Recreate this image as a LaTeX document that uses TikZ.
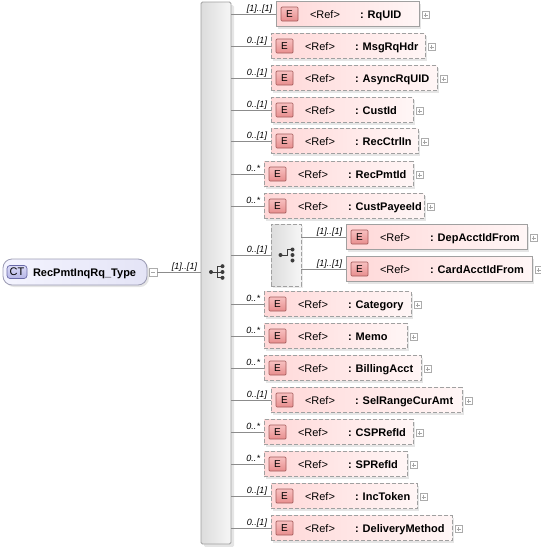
\documentclass[tikz,border=0pt]{standalone}
\usepackage{fontspec}
\setmainfont{Liberation Sans}
\usetikzlibrary{shadows,calc}
\definecolor{linegray}{HTML}{8C8C8C}
\definecolor{boxborder}{HTML}{A0A0A0}
\definecolor{pinkL}{HTML}{FFD8D8}
\definecolor{pinkR}{HTML}{FFF6F6}
\definecolor{ebadgeT}{HTML}{F7C0C0}
\definecolor{ebadgeB}{HTML}{E88E8E}
\definecolor{ebadgeD}{HTML}{A45A5A}
\definecolor{ctL}{HTML}{F4F4FF}
\definecolor{ctR}{HTML}{E4E4F6}
\definecolor{ctborder}{HTML}{9C9CB4}
\definecolor{ctbadgeT}{HTML}{DCDCF8}
\definecolor{ctbadgeB}{HTML}{B4B4E6}
\definecolor{ctbadgeD}{HTML}{6A6AA8}
\definecolor{seqL}{HTML}{DCDCDC}
\definecolor{seqR}{HTML}{F6F6F6}
\definecolor{iconc}{HTML}{3C3C3C}
\tikzset{
  every node/.style={inner sep=0pt, outer sep=0pt},
  elbox/.style={draw=boxborder, line width=0.8pt, left color=pinkL, right color=pinkR,
    minimum height=25pt,
    drop shadow={shadow xshift=2pt, shadow yshift=-2pt, fill=black, opacity=0.10}},
  opt/.style={dash pattern=on 4pt off 2pt},
  ebadge/.style={draw=ebadgeD, line width=0.7pt, top color=ebadgeT, bottom color=ebadgeB,
    minimum width=17pt, minimum height=14pt, rounded corners=1pt,
    font=\fontsize{10}{12}\selectfont},
  reftext/.style={font=\fontsize{11}{13}\selectfont},
  nametext/.style={font=\bfseries\fontsize{11}{13}\selectfont},
  mult/.style={font=\itshape\fontsize{9}{10}\selectfont, anchor=base east},
  plusbox/.style={draw=gray!65, fill=white, line width=0.5pt, minimum size=7pt,
    path picture={\draw[gray!70, line width=0.5pt]
      ([xshift=-2pt]path picture bounding box.center) -- ([xshift=2pt]path picture bounding box.center)
      ([yshift=-2pt]path picture bounding box.center) -- ([yshift=2pt]path picture bounding box.center);}},
  minusbox/.style={draw=gray!65, fill=white, line width=0.5pt, minimum size=8pt,
    path picture={\draw[gray!70, line width=0.5pt]
      ([xshift=-2pt]path picture bounding box.center) -- ([xshift=2pt]path picture bounding box.center);}},
  conn/.style={draw=linegray, line width=0.8pt},
  seqbar/.style={draw=boxborder, line width=0.8pt, left color=seqL, right color=seqR,
    rounded corners=1.5pt,
    drop shadow={shadow xshift=3pt, shadow yshift=-3pt, fill=black, opacity=0.10}},
  choicebar/.style={draw=boxborder, line width=0.8pt, opt, left color=seqL, right color=seqR,
    drop shadow={shadow xshift=2pt, shadow yshift=-2pt, fill=black, opacity=0.08}},
  ctbox/.style={draw=ctborder, line width=0.8pt, left color=ctL, right color=ctR,
    rounded corners=9pt,
    drop shadow={shadow xshift=2pt, shadow yshift=-2pt, fill=black, opacity=0.10}},
  ctbadge/.style={draw=ctbadgeD, line width=0.7pt, top color=ctbadgeT, bottom color=ctbadgeB,
    rounded corners=3pt, font=\fontsize{11}{13}\selectfont},
  icondot/.style={fill=iconc, draw=none},
}
\newcommand\ElemRow[7]{%
  \node[elbox,#6,minimum width={(#3-#2)*1pt},anchor=west] (#1) at (#2,#4) {};
  \node[ebadge,anchor=west] (#1-e) at ([xshift=5pt]#1.west) {E};
  \node[reftext,anchor=base west] (#1-r) at ([xshift=34pt,yshift=-4pt]#1.west) {<Ref>};
  \node[nametext,anchor=base west] (#1-n) at ([xshift=84pt,yshift=-4pt]#1.west) {: #7};
  \node[plusbox] (#1-p) at ([xshift=6.5pt,yshift=-1pt]#1.east) {};
  \node[mult] (#1-m) at ([xshift=-4pt,yshift=3pt]#1.west) {#5};
}
\begin{document}
\begin{tikzpicture}[x=1pt,y=-1pt]
\useasboundingbox (0,0) rectangle (541,547);
\fill[white] (0,0) rectangle (541,547);

% complex type
\node[ctbox, minimum width=144pt, minimum height=26pt, anchor=west] (ct) at (3,272) {};
\node[ctbadge, minimum width=20pt, minimum height=13pt, anchor=west] (ctb) at ([xshift=4pt]ct.west) {CT};
\node[nametext, anchor=base west] (ctn) at ([xshift=30pt,yshift=-4pt]ct.west) {RecPmtInqRq\_Type};
\node[minusbox] (ctm) at (153,272) {};

% sequence
\node[seqbar, minimum width=30pt, minimum height=542pt, anchor=north west] (seq) at (201,2) {};
\draw[conn] (ctm.east) -- (ctm.east -| seq.west);
\node[mult] (ctmult) at ([xshift=-4pt,yshift=3pt]ctm.east -| seq.west) {[1]..[1]};
% sequence icon
\coordinate (sc) at ([yshift=1pt]seq.center);
\draw[iconc, line width=1pt] ([xshift=-5pt]sc) -- ([xshift=6.5pt]sc)
  ([xshift=1.5pt,yshift=5.8pt]sc) -- ([xshift=1.5pt,yshift=-5.8pt]sc)
  ([xshift=1.5pt,yshift=5.8pt]sc) -- ([xshift=6.5pt,yshift=5.8pt]sc)
  ([xshift=1.5pt,yshift=-5.8pt]sc) -- ([xshift=6.5pt,yshift=-5.8pt]sc);
\fill[icondot] ([xshift=-5pt]sc) circle (2pt);
\fill[icondot] ([xshift=6.5pt,yshift=5.8pt]sc) circle (2pt);
\fill[icondot] ([xshift=6.5pt]sc) circle (2pt);
\fill[icondot] ([xshift=6.5pt,yshift=-5.8pt]sc) circle (2pt);

% elements
\ElemRow{r1}{276}{419}{14}{[1]..[1]}{}{RqUID}
\ElemRow{r2}{271}{425}{46}{0..[1]}{opt}{MsgRqHdr}
\ElemRow{r3}{271}{437}{78}{0..[1]}{opt}{AsyncRqUID}
\ElemRow{r4}{271}{413}{110}{0..[1]}{opt}{CustId}
\ElemRow{r5}{271}{418}{141}{0..[1]}{opt}{RecCtrlIn}
\ElemRow{r6}{264}{413}{174}{0..*}{opt}{RecPmtId}
\ElemRow{r7}{264}{424}{206}{0..*}{opt}{CustPayeeId}
\ElemRow{r10}{264}{411}{304}{0..*}{opt}{Category}
\ElemRow{r11}{264}{407}{336}{0..*}{opt}{Memo}
\ElemRow{r12}{264}{421}{368}{0..*}{opt}{BillingAcct}
\ElemRow{r13}{271}{462}{400}{0..[1]}{opt}{SelRangeCurAmt}
\ElemRow{r14}{264}{413}{432}{0..*}{opt}{CSPRefId}
\ElemRow{r15}{264}{407}{464}{0..*}{opt}{SPRefId}
\ElemRow{r16}{271}{417}{496}{0..[1]}{opt}{IncToken}
\ElemRow{r17}{271}{452}{528}{0..[1]}{opt}{DeliveryMethod}

% choice
\node[choicebar, minimum width=30pt, minimum height=62pt, anchor=north west] (ch) at (271,224) {};
\node[mult] (chm) at ([xshift=-4pt,yshift=3pt]ch.west) {0..[1]};
\coordinate (cc) at (ch.center);
\draw[iconc, line width=1pt] ([xshift=-5.5pt]cc) -- ([xshift=1.5pt]cc) -- ([xshift=1.5pt,yshift=5.5pt]cc) -- ([xshift=6pt,yshift=5.5pt]cc);
\fill[icondot] ([xshift=-5.5pt]cc) circle (2pt);
\fill[icondot] ([xshift=6.5pt,yshift=5.5pt]cc) circle (2pt);
\fill[icondot] ([xshift=6.5pt]cc) circle (2pt);
\fill[icondot] ([xshift=6.5pt,yshift=-5.5pt]cc) circle (2pt);

\ElemRow{r8}{346}{527}{237}{[1]..[1]}{}{DepAcctIdFrom}
\ElemRow{r9}{346}{532}{269}{[1]..[1]}{}{CardAcctIdFrom}

% connectors
\foreach \n in {r1,r2,r3,r4,r5,r6,r7,r10,r11,r12,r13,r14,r15,r16,r17,ch}
  {\draw[conn] (seq.east |- \n.west) -- (\n.west);}
\foreach \n in {r8,r9}
  {\draw[conn] (ch.east |- \n.west) -- (\n.west);}
\end{tikzpicture}
\end{document}
